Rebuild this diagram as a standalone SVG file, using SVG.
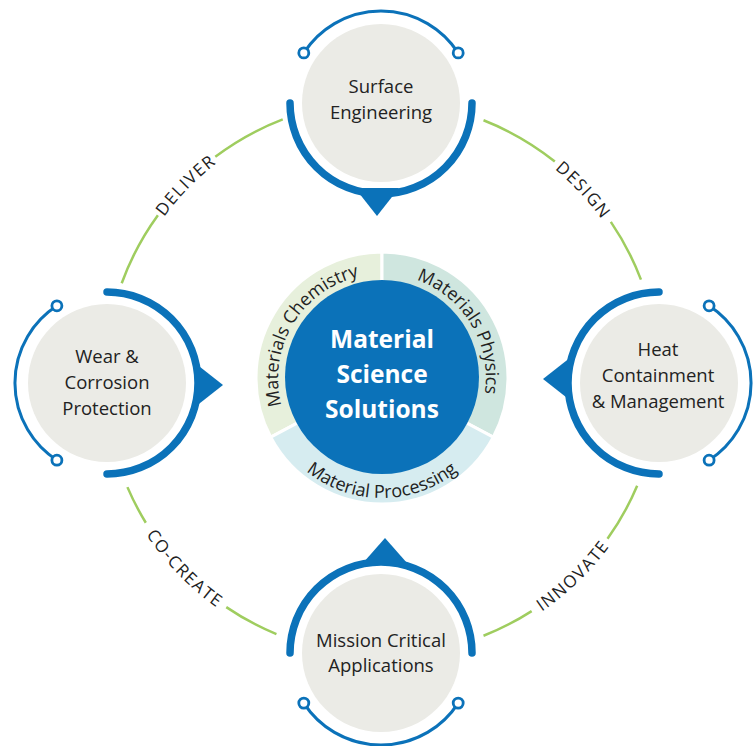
<svg xmlns="http://www.w3.org/2000/svg" width="753" height="746" viewBox="0 0 753 746">
<style>
.gray{fill:#ebebe6}
.thick{fill:none;stroke:#0b72b9;stroke-width:7.5;stroke-linecap:round}
.thin{fill:none;stroke:#0b72b9;stroke-width:3}
.dot{fill:#fff;stroke:#0b72b9;stroke-width:2.8}
.tri{fill:#0b72b9}
.nt{font-family:"Open Sans","Noto Sans","Liberation Sans",sans-serif;font-size:18.5px;fill:#222;text-anchor:middle}
.green{fill:none;stroke:#9fcd5f;stroke-width:2.5}
.lbl{font-family:"Open Sans","Noto Sans","Liberation Sans",sans-serif;font-size:17px;letter-spacing:1.5px;fill:#222}
.rt{font-family:"Open Sans","Noto Sans","Liberation Sans",sans-serif;font-size:18px;fill:#222}
.seg{stroke:#fff;stroke-width:3}
.ct{font-family:"Open Sans","Noto Sans","Liberation Sans",sans-serif;font-size:24.5px;font-weight:bold;fill:#fff;text-anchor:middle}
</style>
<defs>
<path id="pDeliver" d="M119.63,310.15 A271 271 0 0 1 309.58,116.86"/>
<path id="pDesign" d="M461.23,118.84 A271 271 0 0 1 646.05,317.04"/>
<path id="pInnovate" d="M450.46,652.59 A283 283 0 0 0 654.04,456.01"/>
<path id="pCocreate" d="M107.41,446.46 A283 283 0 0 0 303.99,650.04"/>
<path id="pChem" d="M290.17,426.82 A104 104 0 0 1 382,274"/>
<path id="pPhys" d="M382,274 A104 104 0 0 1 473.83,426.82"/>
<path id="pProc" d="M276.05,434.34 A120 120 0 0 0 487.95,434.34"/>
</defs>
<rect width="753" height="746" fill="#fff"/>

<g id="connectors">
<path class="green" d="M121.71,283.26 A277 277 0 0 1 157.90,215.18"/>
<path class="green" d="M215.30,156.78 A277 277 0 0 1 282.73,119.40"/>
<path class="green" d="M483.52,120.27 A277 277 0 0 1 554.81,161.52"/>
<path class="green" d="M610.83,221.90 A277 277 0 0 1 640.95,279.63"/>
<path class="green" d="M637.17,485.79 A277 277 0 0 1 607.51,538.85"/>
<path class="green" d="M531.65,611.10 A277 277 0 0 1 483.52,635.73"/>
<path class="green" d="M276.44,634.10 A277 277 0 0 1 226.30,607.10"/>
<path class="green" d="M145.82,522.73 A277 277 0 0 1 127.42,487.12"/>
<text class="lbl"><textPath href="#pDeliver" startOffset="50%" text-anchor="middle">DELIVER</textPath></text>
<text class="lbl"><textPath href="#pDesign" startOffset="50%" text-anchor="middle">DESIGN</textPath></text>
<text class="lbl"><textPath href="#pInnovate" startOffset="50%" text-anchor="middle">INNOVATE</textPath></text>
<text class="lbl"><textPath href="#pCocreate" startOffset="50%" text-anchor="middle">CO-CREATE</textPath></text>
</g>

<g id="center">
<path class="seg" fill="#e7f0dc" d="M382,378 L270.75,437.15 A126 126 0 0 1 382,252 Z"/>
<path class="seg" fill="#cfe6df" d="M382,378 L382,252 A126 126 0 0 1 493.25,437.15 Z"/>
<path class="seg" fill="#d6ecf0" d="M382,378 L493.25,437.15 A126 126 0 0 1 270.75,437.15 Z"/>
<circle cx="382" cy="377" r="97" fill="#0b72b9"/>
<text class="rt"><textPath href="#pChem" startOffset="50%" text-anchor="middle">Materials Chemistry</textPath></text>
<text class="rt"><textPath href="#pPhys" startOffset="50%" text-anchor="middle">Materials Physics</textPath></text>
<text class="rt"><textPath href="#pProc" startOffset="50%" text-anchor="middle">Material Processing</textPath></text>
<text class="ct" x="382" y="348">Material</text>
<text class="ct" x="382" y="383">Science</text>
<text class="ct" x="382" y="418">Solutions</text>
</g>

<g id="node-surface-engineering">
<circle class="gray" cx="381" cy="103" r="79"/>
<path class="thin" d="M303.8,52.9 A92 92 0 0 1 458.2,52.9"/>
<circle class="dot" cx="303.8" cy="52.9" r="5"/>
<circle class="dot" cx="458.2" cy="52.9" r="5"/>
<path class="thick" d="M290,103 A91 91 0 0 0 472,103"/>
<polygon class="tri" points="355,188 399,188 377,216"/>
<text class="nt" x="381" y="93">Surface</text>
<text class="nt" x="381" y="119">Engineering</text>
</g>

<g id="node-wear-corrosion">
<circle class="gray" cx="107" cy="383" r="79"/>
<path class="thin" d="M56.9,305.8 A92 92 0 0 0 56.9,460.2"/>
<circle class="dot" cx="56.9" cy="305.8" r="5"/>
<circle class="dot" cx="56.9" cy="460.2" r="5"/>
<path class="thick" d="M107,292 A91 91 0 0 1 107,474"/>
<polygon class="tri" points="195,363 195,407 223,385"/>
<text class="nt" x="107" y="363">Wear &amp;</text>
<text class="nt" x="107" y="389">Corrosion</text>
<text class="nt" x="107" y="415">Protection</text>
</g>

<g id="node-heat-containment">
<circle class="gray" cx="659" cy="383" r="79"/>
<path class="thin" d="M709.1,305.8 A92 92 0 0 1 709.1,460.2"/>
<circle class="dot" cx="709.1" cy="305.8" r="5"/>
<circle class="dot" cx="709.1" cy="460.2" r="5"/>
<path class="thick" d="M659,292 A91 91 0 0 0 659,474"/>
<polygon class="tri" points="571,357 571,401 543,379"/>
<text class="nt" x="658" y="356">Heat</text>
<text class="nt" x="658" y="382">Containment</text>
<text class="nt" x="658" y="408">&amp; Management</text>
</g>

<g id="node-mission-critical">
<circle class="gray" cx="381" cy="653" r="79"/>
<path class="thin" d="M303.8,703.1 A92 92 0 0 0 458.2,703.1"/>
<circle class="dot" cx="303.8" cy="703.1" r="5"/>
<circle class="dot" cx="458.2" cy="703.1" r="5"/>
<path class="thick" d="M290,653 A91 91 0 0 1 472,653"/>
<polygon class="tri" points="363,563 407,563 385,538"/>
<text class="nt" x="381" y="647">Mission Critical</text>
<text class="nt" x="381" y="672">Applications</text>
</g>
</svg>
